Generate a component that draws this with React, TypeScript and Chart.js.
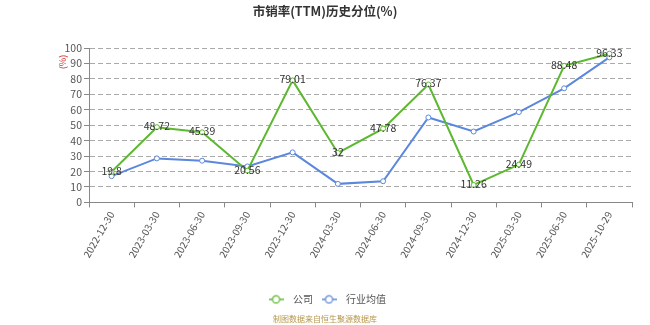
import React, { useEffect, useRef } from "react";
import { Chart, registerables } from "chart.js";

Chart.register(...registerables);

const categories = [
  "2022-12-30", "2023-03-30", "2023-06-30", "2023-09-30", "2023-12-30", "2024-03-30",
  "2024-06-30", "2024-09-30", "2024-12-30", "2025-03-30", "2025-06-30", "2025-10-29",
];
const companyValues = [19.8, 48.72, 45.39, 20.56, 79.01, 32, 47.78, 76.37, 11.26, 24.49, 88.48, 96.33];
const industryValues = [17.0, 28.5, 27.0, 23.3, 32.4, 12.0, 13.7, 55.0, 45.9, 58.5, 73.9, 93.9];
const yTicks = [0, 10, 20, 30, 40, 50, 60, 70, 80, 90, 100];

const titleText = "市销率(TTM)历史分位(%)";
const sourceText = "制图数据来自恒生聚源数据库";
const yUnitText = "(%)";
const seriesNames = ["公司", "行业均值"];
const GREEN = "#5cb82e";
const BLUE = "#5b87dd";
const FONT = "'Noto Sans CJK SC', 'Noto Sans', sans-serif";

function legendIcon(color: string): HTMLCanvasElement {
  const c = document.createElement("canvas");
  c.width = 15;
  c.height = 10;
  const ctx = c.getContext("2d")!;
  ctx.strokeStyle = color;
  ctx.lineWidth = 1.5;
  ctx.beginPath();
  ctx.moveTo(0, 5);
  ctx.lineTo(15, 5);
  ctx.stroke();
  ctx.beginPath();
  ctx.arc(7.5, 5, 3.6, 0, Math.PI * 2);
  ctx.fillStyle = "#fff";
  ctx.fill();
  ctx.lineWidth = 1.2;
  ctx.stroke();
  return c;
}

const labelPlugin = {
  id: "valueLabels",
  afterDatasetsDraw(chart: any) {
    const ctx = chart.ctx;
    const meta = chart.getDatasetMeta(0);
    ctx.save();
    ctx.font = `10.5px ${FONT}`;
    ctx.fillStyle = "#333";
    ctx.textAlign = "center";
    ctx.textBaseline = "middle";
    meta.data.forEach((pt: any, i: number) => {
      ctx.fillText(String(companyValues[i]), pt.x, pt.y - 1);
    });
    const yScale = chart.scales.y;
    ctx.save();
    ctx.translate(yScale.left + 63, chart.chartArea.top + 14);
    ctx.rotate(-Math.PI / 2);
    ctx.font = `9px ${FONT}`;
    ctx.fillStyle = "#d03030";
    ctx.fillText(yUnitText, 0, 0);
    ctx.restore();
    ctx.restore();
  },
};

export default function App() {
  const ref = useRef<HTMLCanvasElement>(null);
  useEffect(() => {
    const icons = [legendIcon(GREEN), legendIcon(BLUE)];
    const chart = new Chart(ref.current!, {
      type: "line",
      data: {
        labels: categories,
        datasets: [
          {
            label: seriesNames[0],
            data: companyValues,
            borderColor: GREEN,
            backgroundColor: "#fff",
            borderWidth: 2,
            pointRadius: 2.5,
            pointBorderWidth: 1,
            pointBackgroundColor: "#fff",
            pointBorderColor: GREEN,
            tension: 0,
          },
          {
            label: seriesNames[1],
            data: industryValues,
            borderColor: BLUE,
            backgroundColor: "#fff",
            borderWidth: 2,
            pointRadius: 2.5,
            pointBorderWidth: 1,
            pointBackgroundColor: "#fff",
            pointBorderColor: BLUE,
            tension: 0,
          },
        ],
      },
      options: {
        animation: false,
        responsive: false,
        layout: { padding: { left: 0, right: 0, top: 0, bottom: 0 } },
        plugins: {
          title: {
            display: true,
            text: titleText,
            color: "#333",
            font: { family: FONT, size: 12.5, weight: "bold" },
            padding: { top: 4, bottom: 29 },
          },
          subtitle: {
            display: true,
            position: "bottom",
            text: sourceText,
            color: "#b8964a",
            font: { family: FONT, size: 8 },
            padding: { top: 0, bottom: 1 },
          },
          legend: {
            position: "bottom",
            labels: {
              usePointStyle: true,
              pointStyleWidth: 24,
              color: "#555",
              font: { family: FONT, size: 10 },
              boxHeight: 10,
              padding: 4,
              generateLabels: () =>
                seriesNames.map((n, i) => ({
                  text: n,
                  pointStyle: icons[i],
                  fillStyle: "#fff",
                  strokeStyle: i === 0 ? GREEN : BLUE,
                  datasetIndex: i,
                  hidden: false,
                  fontColor: "#555",
                })),
            },
          },
          tooltip: { enabled: false },
        },
        scales: {
          x: {
            offset: true,
            grid: {
              offset: true,
              drawOnChartArea: false,
              drawTicks: true,
              tickLength: 5,
              color: "#888",
            },
            border: { color: "#888", width: 1 },
            ticks: {
              color: "#555",
              font: { family: FONT, size: 10 },
              maxRotation: 60,
              minRotation: 60,
              autoSkip: false,
              padding: 2,
            },
            afterFit: (s: any) => {
              s.height = 88;
            },
          },
          y: {
            min: 0,
            max: 100,
            afterBuildTicks: (s: any) => {
              s.ticks = yTicks.map((v) => ({ value: v }));
            },
            grid: {
              color: (c: any) => (c.tick && c.tick.value === 0 ? "rgba(0,0,0,0)" : "#aaa"),
              tickColor: "#888",
              tickLength: 5,
              drawTicks: true,
            },
            border: { color: "#888", width: 1, dash: [5, 3] } as any,
            ticks: {
              color: "#555",
              font: { family: FONT, size: 10.5 },
              padding: 2,
              autoSkip: false,
            },
            afterFit: (s: any) => {
              s.width = 89;
            },
          },
          yPad: {
            position: "right",
            display: true,
            grid: { drawOnChartArea: false, drawTicks: false, display: false },
            border: { display: false },
            ticks: { display: false },
            afterFit: (s: any) => {
              s.width = 18;
            },
          },
        },
      },
      plugins: [labelPlugin],
    });
    return () => chart.destroy();
  }, []);
  return (
    <div style={{ position: "absolute", left: 0, top: 0, width: 650, height: 325 }}>
      <canvas ref={ref} width={650} height={325} />
    </div>
  );
}
